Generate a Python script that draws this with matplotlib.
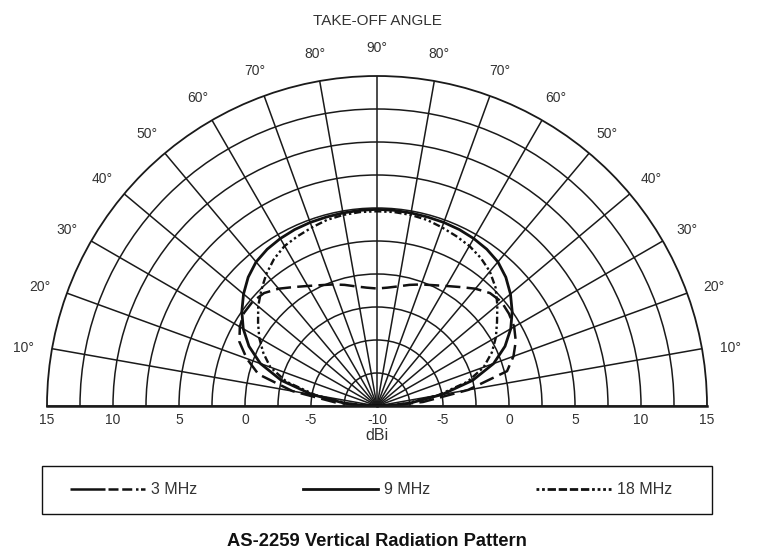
import numpy as np
import matplotlib
matplotlib.use('Agg')
import matplotlib.pyplot as plt
from matplotlib.lines import Line2D
from matplotlib.patches import Rectangle

plt.rcParams['font.family'] = ['Liberation Sans', 'DejaVu Sans']

# Polar angle in degrees: 0 = right horizon, 90 = zenith, 180 = left horizon
angles = [0, 2, 5, 10, 15, 20, 25, 30, 35, 40, 45, 50, 55, 60, 65, 70, 75, 80, 85, 90,
          95, 100, 105, 110, 115, 120, 125, 130, 135, 140, 145, 150, 155, 160, 165, 170, 175, 178, 180]

# Gain in dBi
gain_3mhz = [-10, -9, -6.5, -3.0, 0.2, 1.0, 1.6, 2.0, 2.2, 2.3, 2.1, 1.6, 1.0, 0.5, 0.1, -0.2, -0.5, -0.8, -1.0, -1.1,
             -1.0, -0.8, -0.5, -0.2, 0.1, 0.5, 1.0, 1.6, 2.1, 2.3, 2.3, 2.0, 1.5, 0.5, -0.7, -3.5, -6.8, -9, -10]
gain_9mhz = [-10, -9, -7.5, -5.0, -2.5, -0.6, 0.7, 1.7, 2.5, 3.2, 3.8, 4.25, 4.5, 4.65, 4.75, 4.8, 4.82, 4.85, 4.88, 4.9,
             4.88, 4.85, 4.82, 4.8, 4.75, 4.65, 4.5, 4.25, 3.8, 3.2, 2.5, 1.7, 0.7, -0.6, -2.5, -5.0, -7.5, -9, -10]
gain_18mhz = [-10, -9.2, -7.8, -5.3, -2.9, -1.4, -0.4, 0.4, 1.1, 1.9, 2.7, 3.3, 3.7, 4.0, 4.2, 4.4, 4.6, 4.7, 4.75, 4.75,
              4.75, 4.7, 4.6, 4.4, 4.2, 4.0, 3.6, 3.05, 2.4, 1.75, 1.0, 0.3, -0.5, -1.4, -2.9, -5.3, -7.8, -9.2, -10]

series_labels = ['3 MHz', '9 MHz', '18 MHz']
ring_levels = [-7.5, -5, -2.5, 0, 2.5, 5, 7.5, 10, 12.5]
spoke_angles = list(range(0, 181, 10))
takeoff_labels = [10, 20, 30, 40, 50, 60, 70, 80, 90]
dbi_ticks = [15, 10, 5, 0, -5]

GRID = '#1a1a1a'
TXT = '#333333'
LINE = '#111111'

fig = plt.figure(figsize=(7.6, 5.56), dpi=100)
# half-disc of radius 330 px centred at (377, 406) px
ax = fig.add_axes([47 / 760, -15 / 556, 660 / 760, 660 / 556], projection='polar')
ax.set_thetamin(0)
ax.set_thetamax(180)
ax.set_ylim(-10, 15)

ax.set_rgrids(ring_levels, labels=[''] * len(ring_levels))
ax.set_thetagrids(spoke_angles, labels=[''] * len(spoke_angles))
ax.grid(True, color=GRID, linewidth=1.1, linestyle='-')
ax.tick_params(axis='both', length=0)
for name, sp in ax.spines.items():
    sp.set_color(GRID)
    sp.set_linewidth(1.3)
ax.spines['start'].set_linewidth(1.8)
ax.spines['end'].set_linewidth(1.8)

th = np.deg2rad(angles)
style_3 = dict(color=LINE, lw=1.8, linestyle=(0, (6, 2.5)))
style_9 = dict(color=LINE, lw=2.0, linestyle='-')
style_18 = dict(color=LINE, lw=1.7, linestyle=(0, (3, 1.2, 1, 1.2, 1, 1.2)))
ax.plot(th, gain_3mhz, **style_3)
ax.plot(th, gain_9mhz, **style_9)
ax.plot(th, gain_18mhz, **style_18)

# take-off angle labels outside the arc (both sides)
for a in takeoff_labels:
    for pa in sorted({a, 180 - a}):
        t = np.deg2rad(pa)
        dx = 20.5 * np.cos(t)
        dy = 20.5 * np.sin(t) - 3.0 * abs(np.cos(t))
        ax.annotate(f'{a}°', xy=(t, 15), xytext=(dx, dy), textcoords='offset points',
                    ha='center', va='center', fontsize=10, color=TXT, annotation_clip=False)

# dBi labels along the baseline
for v in dbi_ticks:
    for t in (0.0, np.pi):
        ax.annotate(str(v), xy=(t, v), xytext=(0, -5), textcoords='offset points',
                    ha='center', va='top', fontsize=10, color=TXT, annotation_clip=False)
ax.annotate('-10', xy=(0, -10), xytext=(0, -5), textcoords='offset points',
            ha='center', va='top', fontsize=10, color=TXT, annotation_clip=False)

fig.text(377 / 760, 1 - 436 / 556, 'dBi', ha='center', va='center', fontsize=11.5, color=TXT)
fig.text(377 / 760, 1 - 21 / 556, 'TAKE-OFF ANGLE', ha='center', va='center', fontsize=11, color=TXT)
fig.text(377 / 760, 1 - 541 / 556, 'AS-2259 Vertical Radiation Pattern', ha='center', va='center',
         fontsize=13.2, fontweight='bold', color=LINE)

# legend: frame drawn separately, entries spread across it
fig.patches.append(Rectangle((42 / 760, 1 - 514 / 556), 670 / 760, 48 / 556, transform=fig.transFigure,
                             fill=False, edgecolor=LINE, linewidth=1.0))
handles = [Line2D([], [], color=LINE, lw=1.8, linestyle=(0, (14, 1.2, 4, 1.5, 4, 1.5, 1, 1))),
           Line2D([], [], **style_9),
           Line2D([], [], color=LINE, lw=2.0, linestyle=(0, (1, 1, 1, 1, 3, 1, 3, 1, 3, 1, 3, 1, 1, 1, 1, 1)))]
leg = fig.legend(handles, series_labels, loc='center', ncol=3, mode='expand',
                 bbox_to_anchor=(70 / 760, 1 - 514 / 556, 602 / 760, 48 / 556),
                 frameon=False, fontsize=11.5, handlelength=4.7, handletextpad=0.35,
                 borderpad=0, borderaxespad=0)
for t in leg.get_texts():
    t.set_color(TXT)

fig.savefig('out.png', dpi=100)
